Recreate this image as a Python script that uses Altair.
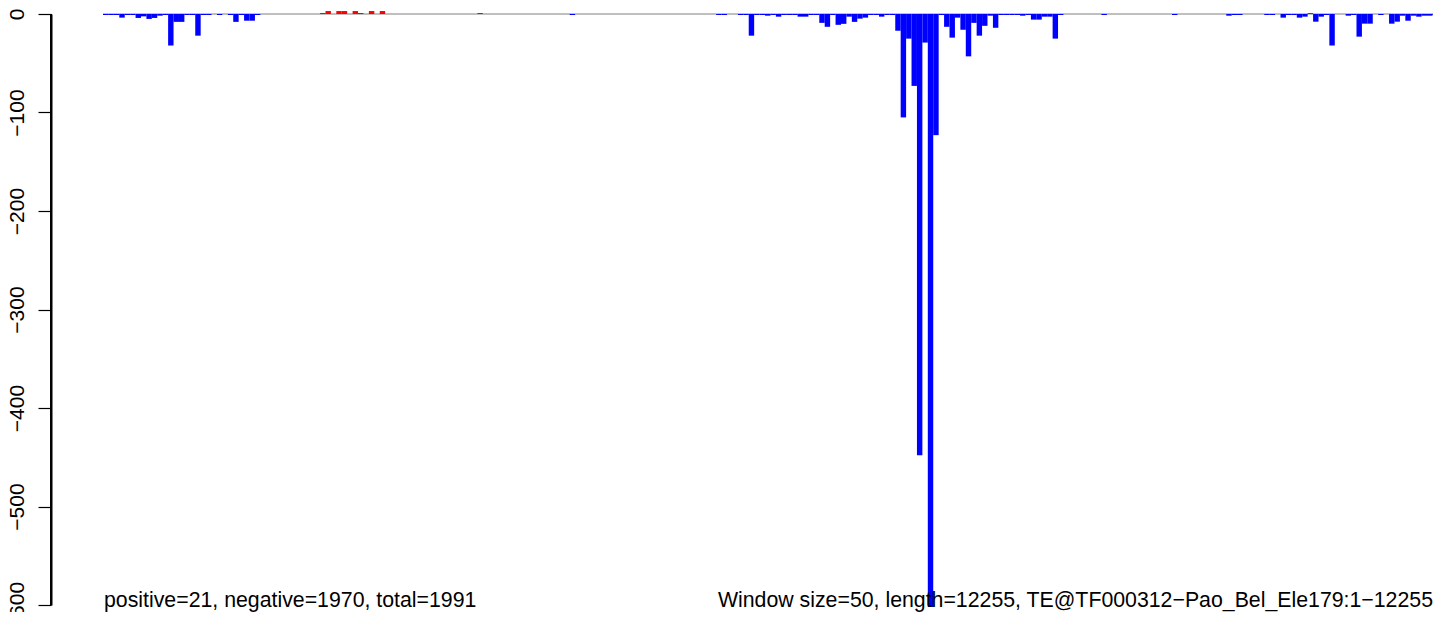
import altair as alt
import pandas as pd

# window values (reads per 50 bp window)
values = [
    -1, -1, -1, -3.7, -1, -1, -4, -2.4, -5, -4,
    -1.7, -1, -32, -8, -8, -1, -1, -22, -1, -1,
    0, -1, 0, -1, -8, -1, -6.8, -6.8, -1, 0,
    0, 0, 0, 0, 0, 0, 0, 0, 0, 0,
    1, 3, 0, 3, 3, 0, 3, 1, 0, 3,
    0, 3, 0, 0, 0, 0, 0, 0, 0, 0,
    0, 0, 0, 0, 0, 0, 0, 0, 0, 1,
    0, 0, 0, 0, 0, 0, 0, 0, 0, 0,
    0, 0, 0, 0, 0, 0, -1, 0, 0, 0,
    0, 0, 0, 0, 0, 0, 0, 0, 0, 0,
    0, 0, 0, 0, 0, 0, 0, 0, 0, 0,
    0, 0, 0, -1, -1, 0, 0, -1, -1, -22,
    -1, -1, -1.7, -1, -2.7, -1, -1, -1, -2.7, -2.7,
    -1, -1, -9, -13, -1, -11, -10, -2.7, -8, -4.7,
    -3.7, -1, -1, -2.7, -1, -1, -17, -105, -25, -73,
    -448, -29, -602, -123, -1, -13, -24, -3.7, -16, -43,
    -9, -22, -12, -1.7, -14, -1, -1, -1, -1, -1.7,
    -1, -5.7, -5.7, -2.7, -2.7, -25, -1, 0, 0, 0,
    0, 0, 0, 0, -1, 0, 0, 0, 0, 0,
    0, 0, 0, 0, 0, 0, 0, -1, 0, 0,
    0, 0, 0, 0, 0, 0, 0, -1.7, -1, -1,
    0, 0, 0, 0, -1, -1, 0, -3.7, -1, -1,
    -3.7, -2.7, 1, -7.8, -2.7, -1, -32, 0, 0, -1.7,
    -1, -23, -9.8, -9.8, 0, -1, 0, -9.8, -7.8, -1.7,
    -6.8, -1.7, -2.7, -1.7, -1.7, -1,
]
window_size = 50
seq_length = 12255
y_ticks = [0, -100, -200, -300, -400, -500, -600]
left_label = "positive=21, negative=1970, total=1991"
right_label = "Window size=50, length=12255, TE@TF000312\u2212Pao_Bel_Ele179:1\u221212255"

starts = [i * window_size for i in range(len(values))]
ends = [min(s + window_size, seq_length) for s in starts]
df = pd.DataFrame({
    "start": starts,
    "end": ends,
    "value": values,
    "base": [0] * len(values),
    "sign": ["pos" if v > 0 else "neg" for v in values],
})

FONT = "Liberation Sans"
PLOT_W = 1330
PLOT_H = 591
AXIS_OFFSET = 52
xscale = alt.Scale(domain=[0, seq_length], nice=False, zero=False)
yscale = alt.Scale(domain=[-600, 0], nice=False, zero=False)

yaxis = alt.Axis(
    orient="left", offset=AXIS_OFFSET, domain=True, domainColor="#000000", domainWidth=2,
    ticks=True, tickSize=13,
    tickColor="black", tickWidth=1.2, values=y_ticks, labelFontSize=21,
    labelFont=FONT, labelColor="black", labelAngle=270, labelAlign="center",
    labelBaseline="alphabetic", labelPadding=15, title=None, grid=False,
    labelFlush=False, labelOverlap=False,
)

zero_df = pd.DataFrame({"x0": [0], "x1": [seq_length], "y0": [0]})
zero_line = alt.Chart(zero_df).mark_rule(color="#808080", strokeWidth=1).encode(
    x=alt.X("x0:Q", scale=xscale, axis=None),
    x2="x1:Q",
    y=alt.Y("y0:Q", scale=yscale, axis=yaxis),
)

bars = alt.Chart(df).mark_rect().encode(
    x=alt.X("start:Q", scale=xscale, axis=None),
    x2="end:Q",
    y=alt.Y("value:Q", scale=yscale, axis=yaxis),
    y2="base:Q",
    color=alt.Color("sign:N", scale=alt.Scale(domain=["pos", "neg"], range=["#FF0000", "#0000FF"]), legend=None),
)

# y-axis line (thin rect left of the plot, expressed in x-scale units)
bp_per_px = seq_length / PLOT_W
axis_df = pd.DataFrame({
    "xa": [-(AXIS_OFFSET + 1.0) * bp_per_px],
    "xb": [-(AXIS_OFFSET - 1.0) * bp_per_px],
    "ya": [y_ticks[0]],
    "yb": [y_ticks[-1]],
})
axis_line = alt.Chart(axis_df).mark_rect(color="#000000").encode(
    x=alt.X("xa:Q", scale=xscale, axis=None),
    x2="xb:Q",
    y=alt.Y("ya:Q", scale=yscale, axis=yaxis),
    y2="yb:Q",
)

left_text = alt.Chart(pd.DataFrame({"t": [left_label]})).mark_text(
    align="left", baseline="alphabetic", fontSize=21.3, font=FONT, color="black"
).encode(x=alt.value(1), y=alt.value(593), text="t:N")

right_text = alt.Chart(pd.DataFrame({"t": [right_label]})).mark_text(
    align="right", baseline="alphabetic", fontSize=21.3, font=FONT, color="black"
).encode(x=alt.value(PLOT_W), y=alt.value(593), text="t:N")

chart = alt.layer(zero_line, bars, axis_line, left_text, right_text).properties(
    width=PLOT_W, height=PLOT_H, autosize="none", background="white",
    padding={"left": 95, "top": 6, "right": 3, "bottom": 7},
).configure_view(strokeWidth=0, stroke=None)

chart.save("out.html", embed_options={"renderer": "svg", "actions": False})
